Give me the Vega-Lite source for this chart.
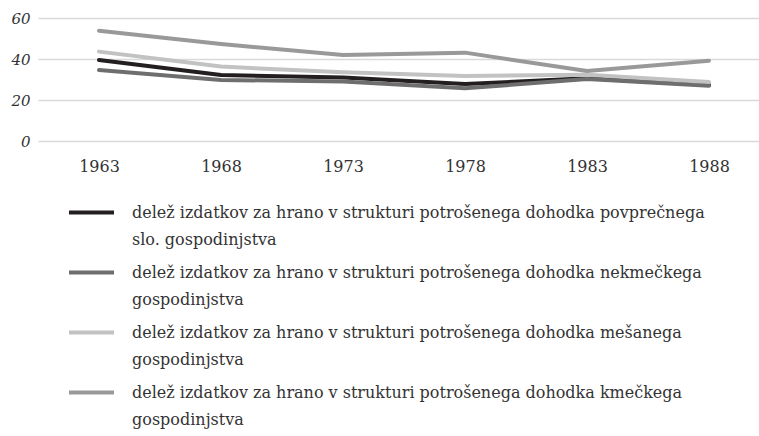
{
  "$schema": "https://vega.github.io/schema/vega-lite/v6.json",
  "autosize": "none",
  "width": 732,
  "height": 123,
  "padding": {"left": 38, "top": 18, "right": 0, "bottom": 295},
  "background": "white",
  "config": {
    "view": {"stroke": null},
    "font": "DejaVu Serif",
    "style": {"guide-label": {"dy": 5, "lineHeight": 27}}
  },
  "data": {
    "values": [
      {"year": "1963", "series": "delež izdatkov za hrano v strukturi potrošenega dohodka povprečnega slo. gospodinjstva", "value": 39.5},
      {"year": "1968", "series": "delež izdatkov za hrano v strukturi potrošenega dohodka povprečnega slo. gospodinjstva", "value": 32.2},
      {"year": "1973", "series": "delež izdatkov za hrano v strukturi potrošenega dohodka povprečnega slo. gospodinjstva", "value": 31.0},
      {"year": "1978", "series": "delež izdatkov za hrano v strukturi potrošenega dohodka povprečnega slo. gospodinjstva", "value": 27.8},
      {"year": "1983", "series": "delež izdatkov za hrano v strukturi potrošenega dohodka povprečnega slo. gospodinjstva", "value": 30.6},
      {"year": "1988", "series": "delež izdatkov za hrano v strukturi potrošenega dohodka povprečnega slo. gospodinjstva", "value": 27.3},
      {"year": "1963", "series": "delež izdatkov za hrano v strukturi potrošenega dohodka nekmečkega gospodinjstva", "value": 34.6},
      {"year": "1968", "series": "delež izdatkov za hrano v strukturi potrošenega dohodka nekmečkega gospodinjstva", "value": 29.8},
      {"year": "1973", "series": "delež izdatkov za hrano v strukturi potrošenega dohodka nekmečkega gospodinjstva", "value": 29.0},
      {"year": "1978", "series": "delež izdatkov za hrano v strukturi potrošenega dohodka nekmečkega gospodinjstva", "value": 25.7},
      {"year": "1983", "series": "delež izdatkov za hrano v strukturi potrošenega dohodka nekmečkega gospodinjstva", "value": 30.2},
      {"year": "1988", "series": "delež izdatkov za hrano v strukturi potrošenega dohodka nekmečkega gospodinjstva", "value": 27.0},
      {"year": "1963", "series": "delež izdatkov za hrano v strukturi potrošenega dohodka mešanega gospodinjstva", "value": 43.6},
      {"year": "1968", "series": "delež izdatkov za hrano v strukturi potrošenega dohodka mešanega gospodinjstva", "value": 36.3},
      {"year": "1973", "series": "delež izdatkov za hrano v strukturi potrošenega dohodka mešanega gospodinjstva", "value": 33.5},
      {"year": "1978", "series": "delež izdatkov za hrano v strukturi potrošenega dohodka mešanega gospodinjstva", "value": 31.7},
      {"year": "1983", "series": "delež izdatkov za hrano v strukturi potrošenega dohodka mešanega gospodinjstva", "value": 32.3},
      {"year": "1988", "series": "delež izdatkov za hrano v strukturi potrošenega dohodka mešanega gospodinjstva", "value": 28.8},
      {"year": "1963", "series": "delež izdatkov za hrano v strukturi potrošenega dohodka kmečkega gospodinjstva", "value": 53.8},
      {"year": "1968", "series": "delež izdatkov za hrano v strukturi potrošenega dohodka kmečkega gospodinjstva", "value": 47.3},
      {"year": "1973", "series": "delež izdatkov za hrano v strukturi potrošenega dohodka kmečkega gospodinjstva", "value": 42.0},
      {"year": "1978", "series": "delež izdatkov za hrano v strukturi potrošenega dohodka kmečkega gospodinjstva", "value": 43.1},
      {"year": "1983", "series": "delež izdatkov za hrano v strukturi potrošenega dohodka kmečkega gospodinjstva", "value": 34.1},
      {"year": "1988", "series": "delež izdatkov za hrano v strukturi potrošenega dohodka kmečkega gospodinjstva", "value": 39.2}
    ]
  },
  "mark": {"type": "line", "strokeWidth": 4, "strokeCap": "round", "strokeJoin": "round"},
  "encoding": {
    "x": {
      "field": "year",
      "type": "ordinal",
      "scale": {"type": "point", "padding": 0.5},
      "axis": {
        "title": null,
        "labelAngle": 0,
        "domain": false,
        "ticks": false,
        "grid": false,
        "labelFont": "DejaVu Serif",
        "labelFontSize": 16,
        "labelColor": "#333333",
        "labelPadding": 12
      }
    },
    "y": {
      "field": "value",
      "type": "quantitative",
      "scale": {"domain": [0, 60]},
      "axis": {
        "title": null,
        "values": [0, 20, 40, 60],
        "domain": false,
        "ticks": false,
        "grid": true,
        "gridColor": "#d9d9d9",
        "gridWidth": 1.5,
        "labelFont": "DejaVu Serif",
        "labelFontStyle": "italic",
        "labelFontSize": 15,
        "labelColor": "#333333",
        "labelPadding": 8,
        "labelOffset": -5
      }
    },
    "color": {
      "field": "series",
      "type": "nominal",
      "sort": null,
      "scale": {
        "domain": [
          "delež izdatkov za hrano v strukturi potrošenega dohodka povprečnega slo. gospodinjstva",
          "delež izdatkov za hrano v strukturi potrošenega dohodka nekmečkega gospodinjstva",
          "delež izdatkov za hrano v strukturi potrošenega dohodka mešanega gospodinjstva",
          "delež izdatkov za hrano v strukturi potrošenega dohodka kmečkega gospodinjstva"
        ],
        "range": ["#231f20", "#6e6e6e", "#c2c2c2", "#999999"]
      },
      "legend": {
        "title": null,
        "orient": "none",
        "legendX": 29,
        "legendY": 170,
        "direction": "vertical",
        "symbolType": "stroke",
        "symbolStrokeWidth": 4,
        "symbolSize": 2025,
        "labelFont": "DejaVu Serif",
        "labelFontSize": 16,
        "labelColor": "#333333",
        "labelOffset": 16,
        "labelLimit": 700,
        "labelBaseline": "alphabetic",
        "labelLineHeight": 27,
        "rowPadding": -5,
        "labelExpr": "indexof(datum.label, ' slo.') > 0 ? [substring(datum.label, 0, indexof(datum.label, ' slo.')), 'slo. gospodinjstva'] : [substring(datum.label, 0, lastindexof(datum.label, ' gospodinjstva')), 'gospodinjstva']"
      }
    }
  }
}
